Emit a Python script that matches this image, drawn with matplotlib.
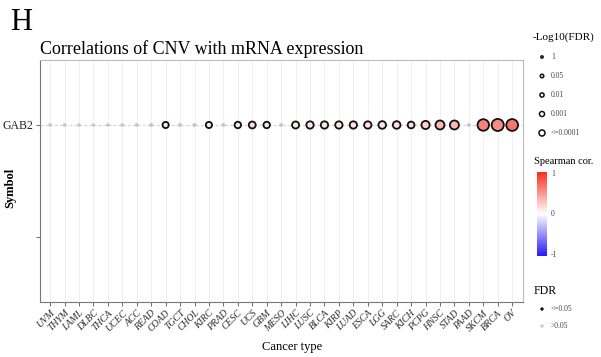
import numpy as np
import matplotlib
matplotlib.use('Agg')
import matplotlib.pyplot as plt
from matplotlib.colors import LinearSegmentedColormap, Normalize

plt.rcParams['font.family'] = ['Liberation Serif', 'DejaVu Serif']

# ---------------- data ----------------
cancers = ['UVM', 'THYM', 'LAML', 'DLBC', 'THCA', 'UCEC', 'ACC', 'READ', 'COAD',
           'TGCT', 'CHOL', 'KIRC', 'PRAD', 'CESC', 'UCS', 'GBM', 'MESO', 'LIHC',
           'LUSC', 'BLCA', 'KIRP', 'LUAD', 'ESCA', 'LGG', 'SARC', 'KICH', 'PCPG',
           'HNSC', 'STAD', 'PAAD', 'SKCM', 'BRCA', 'OV']
neglog_fdr = [0.3, 0.2, 0.1, 0.1, 0.2, 0.3, 0.3, 0.4, 2.0,
              0.5, 0.5, 2.0, 0.4, 2.2, 2.5, 2.2, 0.5, 2.6,
              2.8, 2.8, 2.8, 2.8, 2.8, 3.0, 3.0, 2.4, 3.4,
              4.0, 4.0, 0.3, 5.8, 6.2, 6.0]
spearman = [0.05, 0.03, 0.02, 0.02, 0.03, 0.05, 0.05, 0.06, 0.12,
            0.06, 0.06, 0.10, 0.05, 0.12, 0.15, 0.12, 0.06, 0.12,
            0.12, 0.12, 0.12, 0.12, 0.12, 0.13, 0.15, 0.15, 0.22,
            0.35, 0.35, 0.05, 0.60, 0.55, 0.65]
gene = 'GAB2'

leg_fdr_labels = ['1', '0.05', '0.01', '0.001', '<=0.0001']
leg_fdr_values = [0.0, 1.3, 2.0, 3.0, 4.0]
fdr_sig_labels = ['<=0.05', '>0.05']

cmap = LinearSegmentedColormap.from_list('bwr2', ['#2A1AF5', '#FFFFFF', '#F5301E'])
norm = Normalize(-1, 1)


def dot_size(v, px_per_pt=100 / 72):
    d_px = 3.4 + 1.4 * v
    return (d_px / px_per_pt) ** 2


# ---------------- figure ----------------
W, H = 601, 357
fig = plt.figure(figsize=(W / 100, H / 100), dpi=100)
ax = fig.add_axes([40 / W, 1 - 302 / H, (523 - 40) / W, (302 - 60) / H])

x = np.arange(1, len(cancers) + 1)
neglog_fdr = np.array(neglog_fdr)
spearman = np.array(spearman)
sig = neglog_fdr > 1.3

for xi in x:
    ax.axvline(xi, color='#EDEDED', lw=0.6, zorder=0)
ax.axhline(2, color='#CFCFCF', lw=0.7, ls=(0, (3, 2)), zorder=0)

ax.scatter(x[~sig], np.full((~sig).sum(), 2), s=dot_size(neglog_fdr[~sig]),
           c='#C8C8C8', edgecolors='none', zorder=2)
ax.scatter(x[sig], np.full(sig.sum(), 2), s=dot_size(neglog_fdr[sig]),
           c=spearman[sig], cmap=cmap, norm=norm,
           edgecolors='#111111', linewidths=1.3, zorder=3)

ax.set_xlim(0.3, len(cancers) + 0.75)
ax.set_ylim(0.42, 2.58)
ax.set_xticks(x)
ax.set_xticklabels(cancers, rotation=45, ha='right', rotation_mode='anchor',
                   fontsize=7, style='italic', color='#2A2A2A')
ax.set_yticks([1, 2])
ax.set_yticklabels(['', gene], fontsize=8.5, color='#222222')
ax.tick_params(axis='both', length=3, width=0.6, color='#555555', pad=1.5)
for side, sp in ax.spines.items():
    sp.set_color('#BBBBBB' if side in ('top', 'right') else '#777777')
    sp.set_linewidth(0.8)

fig.text(292 / W, 1 - 347 / H, 'Cancer type', fontsize=9, va='center', ha='center')
fig.text(10 / W, 1 - 188 / H, 'Symbol', fontsize=9, fontweight='bold',
         rotation=90, va='center', ha='center')

fig.text(10 / W, 1 - 8 / H, 'H', fontsize=22, va='top', ha='left')
fig.text(40 / W, 1 - 54 / H, 'Correlations of CNV with mRNA expression',
         fontsize=13, va='baseline', ha='left')

# ---------------- legends (pixel coordinates) ----------------
lax = fig.add_axes([0, 0, 1, 1], zorder=5)
lax.set_xlim(0, W)
lax.set_ylim(H, 0)
lax.axis('off')

lax.text(533, 37, '-Log10(FDR)', fontsize=8, va='center', ha='left')
leg_y = [57, 76, 95, 114, 133]
lax.scatter([542] * len(leg_y), leg_y, s=[dot_size(v) * 0.45 for v in leg_fdr_values],
            c='white', edgecolors='#111111', linewidths=1.1)
for yy, lab in zip(leg_y, leg_fdr_labels):
    lax.text(551, yy, lab, fontsize=5.5, va='center', ha='left', color='#444444')

lax.text(534, 162, 'Spearman cor.', fontsize=7.5, va='center', ha='left')
cax = fig.add_axes([537 / W, 1 - 256 / H, 10 / W, (256 - 172) / H])
grad = np.linspace(-1, 1, 256).reshape(-1, 1)
cax.imshow(grad, aspect='auto', cmap=cmap, norm=norm, origin='lower',
           extent=[0, 1, -1, 1])
cax.set_xticks([])
cax.set_yticks([])
for sp in cax.spines.values():
    sp.set_visible(False)
for yy, lab in zip([174, 214, 255], ['1', '0', '-1']):
    lax.text(551, yy, lab, fontsize=5.5, va='center', ha='left', color='#444444')

lax.text(534, 291, 'FDR', fontsize=8.5, va='center', ha='left')
lax.scatter([542, 542], [309, 326], s=[6, 6], c=['#111111', '#CCCCCC'], edgecolors='none')
for yy, lab in zip([309, 326], fdr_sig_labels):
    lax.text(551, yy, lab, fontsize=5.5, va='center', ha='left', color='#444444')

fig.savefig('out.png', dpi=100)
